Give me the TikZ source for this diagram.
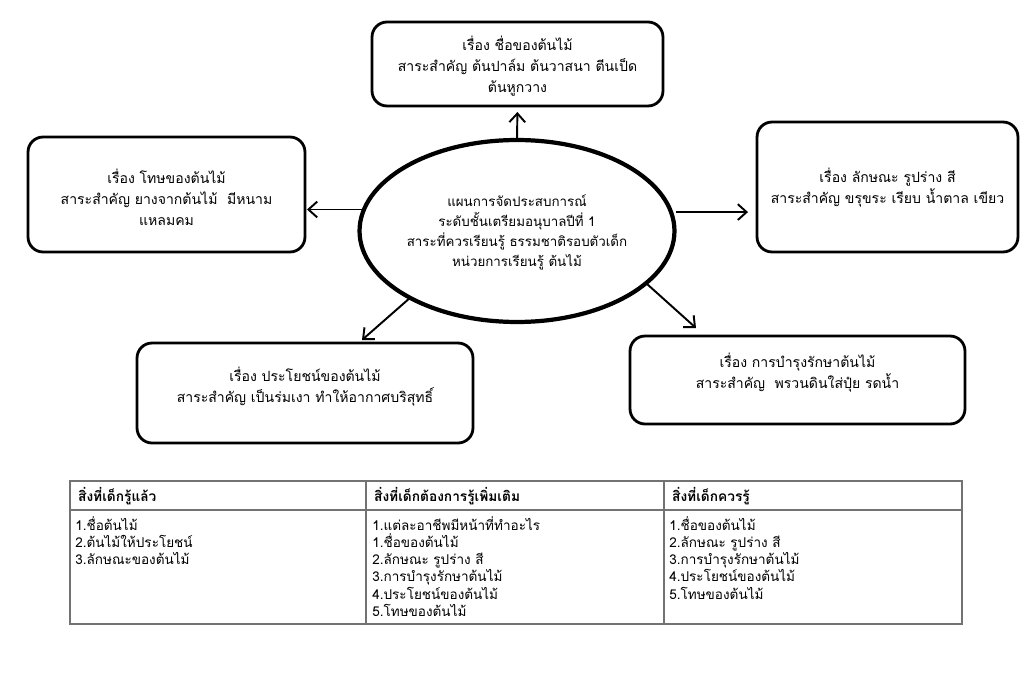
\documentclass[tikz,border=0pt]{standalone}
\usepackage{fontspec}
\setmainfont[Script=Thai]{Loma}
\usetikzlibrary{shapes.geometric,arrows.meta}
\begin{document}
\begin{tikzpicture}[x=0.02cm,y=-0.02cm,
  box/.style={draw=black,line width=1.6pt,rounded corners=0.3cm,outer sep=0pt,inner sep=0pt},
  txt/.style={align=center,font=\fontsize{8}{12}\selectfont},
  etxt/.style={align=center,font=\fontsize{7.6}{11.5}\selectfont},
  arr/.style={line width=1.1pt,-{Straight Barb[length=5pt,width=9pt,line width=1.1pt]}},
  tline/.style={draw=black!55,line width=1.2pt},
  thead/.style={anchor=west,font=\fontsize{7.8}{9.8}\selectfont\bfseries},
  titem/.style={anchor=north west,align=left,inner sep=0pt,font=\fontsize{7.7}{9.8}\selectfont}]
\useasboundingbox (0,0) rectangle (1024,699);
\fill[white] (0,0) rectangle (1024,699);

% boxes
\node[box,minimum width=5.82cm,minimum height=1.68cm] (top) at (517.5,64) {};
\node[txt] (toptxt) at (517.5,66) {เรื่อง ชื่อของต้นไม้\\สาระสำคัญ ต้นปาล์ม ต้นวาสนา ตีนเป็ด\\ต้นหูกวาง};

\node[box,minimum width=5.54cm,minimum height=2.30cm] (lb) at (166.5,194.5) {};
\node[txt] (lbtxt) at (166.5,197) {เรื่อง โทษของต้นไม้\\สาระสำคัญ ยางจากต้นไม้ \ มีหนาม\\แหลมคม};

\node[box,minimum width=5.22cm,minimum height=2.60cm] (rb) at (887.5,187) {};
\node[txt] (rbtxt) at (887.5,188) {เรื่อง ลักษณะ รูปร่าง สี\\สาระสำคัญ ขรุขระ เรียบ น้ำตาล เขียว};

\node[box,minimum width=6.72cm,minimum height=2.00cm] (bl) at (305,393) {};
\node[txt] (bltxt) at (305,387) {เรื่อง ประโยชน์ของต้นไม้\\สาระสำคัญ เป็นร่มเงา ทำให้อากาศบริสุทธิ์};

\node[box,minimum width=6.70cm,minimum height=1.76cm] (br) at (797.5,380) {};
\node[txt] (brtxt) at (797.5,373) {เรื่อง การบำรุงรักษาต้นไม้\\สาระสำคัญ \ พรวนดินใส่ปุ๋ย รดน้ำ};

% ellipse
\node[ellipse,draw=black,line width=2.4pt,minimum width=6.3cm,minimum height=3.64cm,inner sep=0pt,outer sep=0pt] (ell) at (517,231) {};
\node[etxt] (elltxt) at (517,232.5) {แผนการจัดประสบการณ์\\ระดับชั้นเตรียมอนุบาลปีที่ 1\\สาระที่ควรเรียนรู้ ธรรมชาติรอบตัวเด็ก\\หน่วยการเรียนรู้ ต้นไม้};

% arrows
\coordinate (tipBL) at (362,340);
\coordinate (tipBR) at (696,328);
\draw[arr,shorten >=0.12cm] (ell.north) -- (top.south);
\draw[arr,shorten <=0.04cm,shorten >=0.04cm] (ell.172) -- (ell.172 -| lb.east);
\draw[arr,shorten <=0.1cm,shorten >=0.18cm] (ell.7) -- (ell.7 -| rb.west);
\draw[arr] (ell.212) -- (tipBL);
\draw[arr] (ell.-22) -- (tipBR);

% table
\coordinate (t1) at (70,481);
\coordinate (t2) at (962,624);
\draw[tline] (t1) rectangle (t2);
\draw[tline] (70,510) -- (962,510);
\draw[tline] (366,481) -- (366,624);
\draw[tline] (664,481) -- (664,624);

\node[thead] (h1) at (72,496) {สิ่งที่เด็กรู้แล้ว};
\node[thead] (h2) at (368,496) {สิ่งที่เด็กต้องการรู้เพิ่มเติม};
\node[thead] (h3) at (666,496) {สิ่งที่เด็กควรรู้};

\node[titem] (c1) at (75,516) {1.ชื่อต้นไม้\\2.ต้นไม้ให้ประโยชน์\\3.ลักษณะของต้นไม้};
\node[titem] (c2) at (372,516) {1.แต่ละอาชีพมีหน้าที่ทำอะไร\\1.ชื่อของต้นไม้\\2.ลักษณะ รูปร่าง สี\\3.การบำรุงรักษาต้นไม้\\4.ประโยชน์ของต้นไม้\\5.โทษของต้นไม้};
\node[titem] (c3) at (669,516) {1.ชื่อของต้นไม้\\2.ลักษณะ รูปร่าง สี\\3.การบำรุงรักษาต้นไม้\\4.ประโยชน์ของต้นไม้\\5.โทษของต้นไม้};
\end{tikzpicture}
\end{document}
